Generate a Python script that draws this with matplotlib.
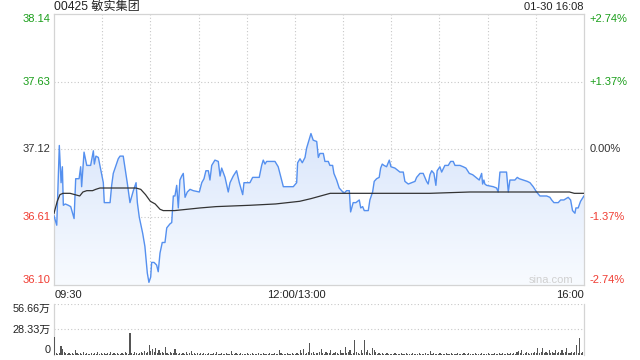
import numpy as np
import matplotlib.pyplot as plt
from matplotlib.colors import LinearSegmentedColormap

plt.rcParams['font.family'] = ['Liberation Sans', 'Noto Sans CJK SC']

title = '00425 敏实集团'
stamp = '01-30 16:08'
prev_close = 37.12
price_levels = [38.14, 37.63, 37.12, 36.61, 36.10]
pct_labels = ['+2.74%', '+1.37%', '0.00%', '-1.37%', '-2.74%']
time_labels = ['09:30', '12:00/13:00', '16:00']
vol_levels = [56.66, 28.33, 0]
vol_labels = ['56.66万', '28.33万', '0']

# minutes after 09:30 (lunch break removed)
minutes = [0, 1.7, 3.3, 4.4, 5.2, 5.8, 7.0, 8.9, 10.4, 12.5, 13.5, 15.6, 16.6, 17.2,
           18.7, 20.4, 22.8, 24.5, 25.1, 26.1, 27.6, 28.6, 30.7, 31.3, 34.9, 35.9,
           36.9, 40.0, 41.1, 43.1, 45.6, 47.3, 49.4, 51.1, 51.9, 53.1, 55.2, 56.6,
           58.1, 59.1, 60.2, 60.8, 62.3, 63.9, 64.9, 66.0, 67.4, 69.1, 70.2, 72.2,
           73.3, 74.3, 75.3, 76.4, 77.4, 78.4, 79.5, 80.5, 81.6, 83.0, 84.7, 86.7,
           90.5, 92.0, 93.4, 94.6, 96.1, 97.1, 98.2, 100.2, 102.3, 103.4, 104.4,
           106.5, 108.5, 109.6, 111.6, 113.7, 115.4, 117.5, 118.3, 122.0, 123.7,
           127.8, 129.3, 130.3, 131.4, 132.4, 137.6, 139.6, 142.8, 149.0, 151.1,
           151.7, 153.2, 154.6, 156.3, 157.3, 160.0, 161.4, 163.6, 164.6, 165.6,
           167.7, 168.7, 170.8, 171.8, 173.5, 174.3, 176.0, 177.6, 179.1, 180.6,
           182.2, 183.9, 184.7, 186.3, 188.0, 190.1, 191.0, 192.2, 193.2, 195.7,
           196.7, 198.4, 199.4, 200.9, 202.5, 203.4, 204.4, 205.5, 207.1, 208.8,
           209.8, 212.3, 215.4, 217.5, 218.5, 220.6, 224.8, 225.8, 227.9, 229.9,
           232.0, 233.0, 234.1, 235.2, 236.6, 237.8, 238.6, 240.3, 241.4, 243.4,
           245.5, 247.0, 248.6, 249.7, 252.8, 254.8, 256.5, 258.6, 260.7, 262.7,
           264.8, 266.3, 266.9, 267.7, 268.3, 269.4, 273.5, 275.6, 276.6, 277.7,
           281.8, 282.9, 283.9, 287.0, 288.5, 289.7, 292.2, 294.7, 296.4, 298.4,
           300.5, 302.6, 306.8, 308.8, 309.9, 311.3, 314.0, 315.5, 317.5, 318.8,
           320.2, 321.7, 322.9, 324.4, 325.0, 326.4, 327.9, 330.0]
price = [36.62, 36.55, 37.15, 36.87, 36.99, 36.70, 36.71, 36.70, 36.69, 36.60, 36.90,
         36.90, 36.99, 36.84, 37.10, 37.00, 37.00, 37.11, 37.01, 37.07, 37.06, 37.00,
         36.87, 36.72, 36.72, 36.85, 36.94, 37.05, 37.07, 37.07, 36.87, 36.72, 36.81,
         36.87, 36.72, 36.61, 36.49, 36.39, 36.19, 36.12, 36.16, 36.27, 36.27, 36.25,
         36.20, 36.34, 36.42, 36.42, 36.53, 36.56, 36.57, 36.77, 36.77, 36.85, 36.68,
         36.89, 36.92, 36.94, 36.76, 36.80, 36.82, 36.81, 36.80, 36.87, 36.90, 36.96,
         36.96, 36.89, 37.00, 37.04, 37.03, 36.92, 36.98, 36.91, 36.80, 36.87, 36.92,
         36.96, 36.87, 36.78, 36.87, 36.87, 36.91, 36.91, 37.00, 37.04, 37.01, 37.03,
         37.03, 36.99, 36.84, 36.84, 36.87, 37.02, 37.05, 37.02, 37.06, 37.13, 37.24,
         37.19, 37.18, 37.06, 37.09, 37.09, 37.03, 37.03, 37.00, 37.00, 36.94, 36.89,
         36.83, 36.81, 36.79, 36.81, 36.81, 36.65, 36.72, 36.72, 36.74, 36.68, 36.69,
         36.66, 36.66, 36.74, 36.80, 36.88, 36.90, 36.91, 36.98, 37.01, 37.00, 36.99,
         37.04, 36.99, 36.98, 36.95, 36.95, 36.88, 36.86, 36.88, 36.91, 36.94, 36.94,
         36.88, 36.86, 36.93, 36.96, 36.94, 36.85, 36.96, 36.99, 36.95, 37.00, 37.00,
         37.03, 37.03, 37.00, 37.00, 36.99, 36.98, 36.94, 36.93, 36.91, 36.89, 36.94,
         36.86, 36.89, 36.86, 36.85, 36.84, 36.83, 36.80, 36.95, 36.95, 36.80, 36.89,
         36.89, 36.91, 36.90, 36.89, 36.88, 36.87, 36.84, 36.80, 36.77, 36.77, 36.76,
         36.74, 36.72, 36.72, 36.74, 36.74, 36.75, 36.76, 36.74, 36.66, 36.64, 36.68,
         36.68, 36.73, 36.77]

avg_minutes = [0, 2, 3.7, 5.6, 10, 16, 18, 20.4, 24, 26, 28.6, 35, 41, 51, 54, 57,
               60, 63, 66, 68, 75, 91, 101, 122, 138, 153, 160, 166, 172, 184, 200,
               215, 234, 259, 277, 296, 303, 321, 324, 330]
avg_price = [36.64, 36.73, 36.78, 36.79, 36.79, 36.77, 36.80, 36.81, 36.81, 36.82,
             36.83, 36.83, 36.83, 36.83, 36.82, 36.78, 36.73, 36.71, 36.67, 36.66,
             36.66, 36.68, 36.69, 36.70, 36.71, 36.73, 36.75, 36.77, 36.79, 36.79,
             36.79, 36.79, 36.79, 36.80, 36.80, 36.80, 36.80, 36.80, 36.79, 36.79]

# volume per minute, in 万 shares (09:30 ... 16:00)
volume = [
    19.6, 2.5, 1.5, 2, 10, 6.5, 3, 2, 1.5, 2.5, 1, 2, 1.5, 5, 2, 1, 2.5, 1.5, 3, 1, 2, 1.5, 1, 2.5, 1.5, 2, 1, 3, 1.5, 2,
    1, 2.5, 1.5, 2, 1, 3, 1.5, 2, 1, 2.5, 1.5, 1, 2, 1.5, 3, 2, 1.5, 24.7, 2, 1.5, 3, 2, 1.5, 2.5, 3, 2, 4, 2.5, 3, 11,
    4, 7, 3, 8, 2.5, 5, 2, 3, 2.5, 9, 2, 1.5, 3, 2, 2.5, 7, 2, 1.5, 2.5, 1, 2, 1.5, 3, 1, 2, 4, 1.5, 2, 1, 2.5,
    1.5, 2, 1, 2.5, 1.5, 1, 2, 1, 1.5, 2.5, 1, 3, 1.5, 1, 2, 1.5, 1, 2, 1.5, 1, 4, 1.5, 1, 2, 1, 1.5, 2.5, 1, 1.5, 1,
    2, 1, 1.5, 2.5, 1, 1.5, 1, 2, 1.5, 1, 2.5, 1, 1.5, 1, 2, 1, 1.5, 2, 1, 1.5, 5, 2.5, 1, 1.5, 1, 2, 1, 1.5, 2.5, 1,
    1.5, 2, 1, 5, 2, 6.7, 1.5, 2, 3, 13.7, 2, 3, 1.5, 2.5, 2, 3, 7, 2, 1.5, 3, 2, 2.5, 5, 1.5, 2, 3, 2, 1.5, 5, 2,
    2.5, 8.5, 2, 3, 5, 1.5, 2.5, 17, 3, 2, 1.5, 5, 2, 17, 3, 5, 2, 1.5, 8, 5, 3, 1.5, 2, 1, 2, 1.5, 1, 2, 1.5, 1,
    1.5, 1, 2, 1, 1.5, 1, 2, 1, 1.5, 2, 1, 1.5, 1, 2, 1, 1.5, 1, 2, 1, 1.5, 1, 2, 1, 1.5, 4, 1, 2, 1, 1.5, 1,
    2, 1, 1.5, 1, 2, 1, 1.5, 2.5, 1, 1.5, 1, 2, 1, 1.5, 1, 2, 1, 1.5, 2.5, 1, 1.5, 1, 2, 1, 1.5, 1, 2.5, 1, 1.5, 1,
    2, 1, 1.5, 1, 2, 1, 1.5, 2, 1, 2.5, 1.5, 1, 2, 1.5, 2.5, 1, 2, 1.5, 3, 4.5, 2, 5, 1.5, 2, 3, 2, 1.5, 2.5, 2, 3,
    2, 7.5, 2, 3, 8, 2.5, 3, 2, 5.5, 2, 3, 2.5, 5, 2, 3, 2, 5, 2.5, 3, 7.5, 2, 2.5, 3, 2, 3, 11, 2, 19, 2.5, 3,
    3,
]

green, red, dark = '#1a9e1a', '#f03c32', '#333333'
level_colors = [green, green, dark, red, red]
frame = '#d4d4d4'
grid_kw = dict(color='#c8c8c8', lw=0.8, ls=(0, (1, 2)))

fig = plt.figure(figsize=(6.4, 3.6), dpi=100)
ax = fig.add_axes([0.0844, 0.2083, 0.828, 0.753])
axv = fig.add_axes([0.0844, 0.0139, 0.828, 0.1417])

# price panel
poly = ax.fill_between(minutes, price, price_levels[-1], color='none', lw=0)
cmap = LinearSegmentedColormap.from_list('bluefade', ['#f8fbff', '#dae6fb'])
img = ax.imshow(np.linspace(0, 1, 256).reshape(-1, 1), cmap=cmap, origin='lower',
                aspect='auto', extent=[0, 330, price_levels[-1], max(price)], zorder=1)
img.set_clip_path(poly.get_paths()[0], transform=ax.transData)
ax.plot(minutes, price, color='#5590ef', lw=1.0, zorder=3)
ax.plot(avg_minutes, avg_price, color='#333333', lw=0.9, zorder=4)

ax.set_xlim(0, 330)
ax.set_ylim(price_levels[-1], price_levels[0])
for m in range(30, 330, 30):
    ax.axvline(m, zorder=0, **grid_kw)
for lv in price_levels[1:-1]:
    ax.axhline(lv, zorder=0, **grid_kw)
ax.set_xticks([])
ax.set_yticks([])
for s in ax.spines.values():
    s.set_color(frame)
    s.set_linewidth(0.9)

tr = ax.get_yaxis_transform()
for i, (lv, lab, c) in enumerate(zip(price_levels, pct_labels, level_colors)):
    va = 'top' if i == 0 else ('bottom' if i == len(price_levels) - 1 else 'center')
    ax.text(-0.006, lv, f'{lv:.2f}', transform=tr, ha='right', va=va, color=c, fontsize=8)
    ax.text(1.011, lv, lab, transform=tr, ha='left', va=va, color=c, fontsize=8)

ax.text(0.98, 0.0, 'sina.com', transform=ax.transAxes, ha='right', va='bottom',
        color='#d0d0d0', fontsize=8)

fig.text(0.0844, 0.980, title, ha='left', va='center', fontsize=8.7, color='#222222')
fig.text(0.9125, 0.980, stamp, ha='right', va='center', fontsize=8, color='#222222')
fig.text(0.086, 0.181, time_labels[0], ha='left', va='center', fontsize=8, color='#222222')
fig.text(0.4625, 0.181, time_labels[1], ha='center', va='center', fontsize=8, color='#222222')
fig.text(0.9125, 0.181, time_labels[2], ha='right', va='center', fontsize=8, color='#222222')

# volume panel
axv.bar(range(len(volume)), volume, width=0.7, align='edge', color='#555555', lw=0, zorder=3)
axv.set_xlim(0, 330)
axv.set_ylim(0, vol_levels[0])
for lv in vol_levels[:-1]:
    axv.axhline(lv, zorder=0, **grid_kw)
axv.set_xticks([])
axv.set_yticks([])
for k in ['top', 'bottom']:
    axv.spines[k].set_visible(False)
for k in ['left', 'right']:
    axv.spines[k].set_color(frame)
    axv.spines[k].set_linewidth(0.9)
trv = axv.get_yaxis_transform()
for i, (lv, lab) in enumerate(zip(vol_levels, vol_labels)):
    va = 'top' if i == 0 else ('bottom' if i == len(vol_levels) - 1 else 'center')
    axv.text(-0.006, lv, lab, transform=trv, ha='right', va=va, color='#222222', fontsize=7.8)

fig.savefig('out.png', dpi=100)
